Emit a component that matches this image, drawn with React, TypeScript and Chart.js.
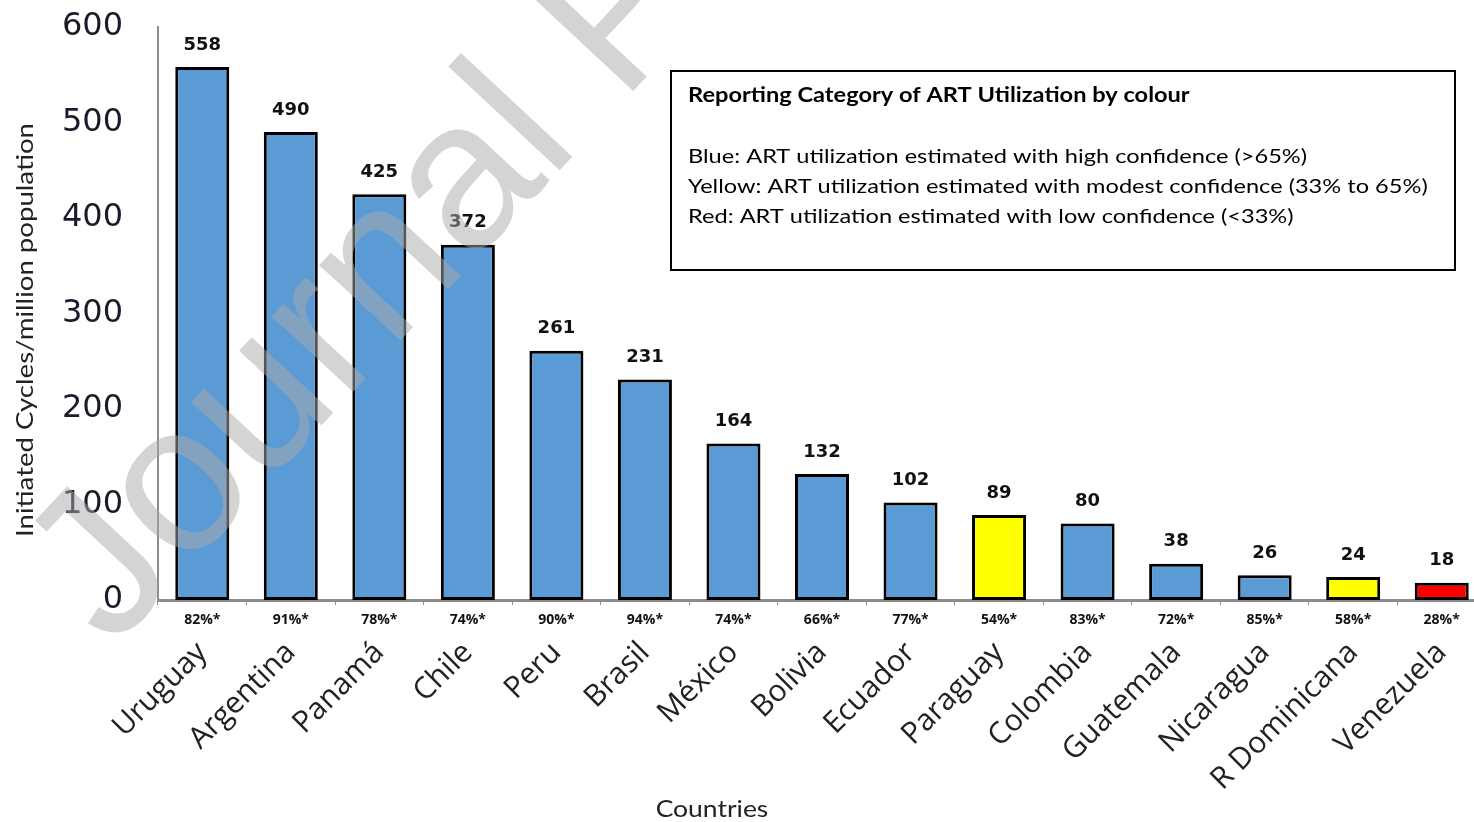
import React, { useEffect, useRef } from 'react';
import { Chart, registerables } from 'chart.js';

Chart.register(...registerables);

const countries = ['Uruguay', 'Argentina', 'Panamá', 'Chile', 'Peru', 'Brasil', 'México', 'Bolivia', 'Ecuador', 'Paraguay', 'Colombia', 'Guatemala', 'Nicaragua', 'R Dominicana', 'Venezuela'];
const cycles = [558, 490, 425, 372, 261, 231, 164, 132, 102, 89, 80, 38, 26, 24, 18];
const utilization = [82, 91, 78, 74, 90, 94, 74, 66, 77, 54, 83, 72, 85, 58, 28];
const yTickValues = [0, 100, 200, 300, 400, 500, 600];
const legendTitle = 'Reporting Category of ART Utilization by colour';
const legendLines = [
  'Blue: ART utilization estimated with high confidence (>65%)',
  'Yellow: ART utilization estimated with modest confidence (33% to 65%)',
  'Red: ART utilization estimated with low confidence (<33%)',
];
const yTitle = 'Initiated Cycles/million population';
const xTitle = 'Countries';
const watermarkText = 'Journal Pre-proof';

const BLUE = '#5B9BD5';
const YELLOW = '#FFFF00';
const RED = '#FF0000';
const colourFor = (u: number) => (u > 65 ? BLUE : u >= 33 ? YELLOW : RED);

function stretchedText(ctx: CanvasRenderingContext2D, text: string, x: number, y: number, sx: number) {
  ctx.save();
  ctx.translate(x, y);
  ctx.scale(sx, 1);
  ctx.fillText(text, 0, 0);
  ctx.restore();
}

const overlayPlugin = {
  id: 'overlay',
  afterDatasetsDraw(chart: any) {
    const ctx = chart.ctx as CanvasRenderingContext2D;
    const meta = chart.getDatasetMeta(0);
    const area = chart.chartArea;
    ctx.save();
    ctx.fillStyle = '#111';
    ctx.textAlign = 'center';
    ctx.textBaseline = 'middle';
    meta.data.forEach((bar: any, i: number) => {
      ctx.font = 'bold 18px "DejaVu Sans"';
      ctx.fillText(String(cycles[i]), bar.x, bar.y - 22);
      ctx.font = 'bold 14px "Open Sans"';
      ctx.fillText(`${utilization[i]}%*`, bar.x, area.bottom + 20);
    });

    // axis titles
    ctx.fillStyle = '#222';
    ctx.font = '23px Lato';
    ctx.textAlign = 'center';
    stretchedText(ctx, xTitle, 712, 810, 1.15);
    ctx.save();
    ctx.translate(26, 330);
    ctx.rotate(-Math.PI / 2);
    ctx.scale(1.2, 1);
    ctx.fillText(yTitle, 0, 0);
    ctx.restore();

    // legend box
    ctx.lineWidth = 2;
    ctx.strokeStyle = '#000';
    ctx.strokeRect(671, 71, 784, 199);
    ctx.textAlign = 'left';
    ctx.fillStyle = '#000';
    ctx.font = 'bold 20px Lato';
    stretchedText(ctx, legendTitle, 688, 96, 1.18);
    ctx.font = '20px Lato';
    legendLines.forEach((t, i) => stretchedText(ctx, t, 688, 157 + 30 * i, 1.18));
    ctx.restore();
  },
  afterDraw(chart: any) {
    const ctx = chart.ctx as CanvasRenderingContext2D;
    ctx.save();
    ctx.translate(112, 650);
    ctx.rotate((-47 * Math.PI) / 180);
    ctx.font = '210px "Liberation Sans"';
    ctx.fillStyle = 'rgba(170,170,170,0.5)';
    ctx.textBaseline = 'alphabetic';
    ctx.textAlign = 'left';
    ctx.fillText(watermarkText, 0, 0);
    ctx.restore();
  },
};

export default function App() {
  const ref = useRef<HTMLCanvasElement | null>(null);
  useEffect(() => {
    document.body.style.margin = '0';
    const canvas = ref.current!;
    const chart = new Chart(canvas, {
      type: 'bar',
      data: {
        labels: countries,
        datasets: [
          {
            data: cycles,
            backgroundColor: utilization.map(colourFor),
            borderColor: '#000',
            borderWidth: 3,
            borderSkipped: false,
            barPercentage: 1,
            categoryPercentage: 0.61,
          },
        ],
      },
      options: {
        animation: false,
        responsive: false,
        layout: { padding: { left: 0, top: 27, right: 0, bottom: 0 } },
        plugins: { legend: { display: false }, tooltip: { enabled: false } },
        scales: {
          x: {
            afterFit: (s: any) => {
              s.height = 222;
              s.paddingRight = 0;
              s.paddingLeft = 0;
            },
            border: { display: true, color: '#8c8c8c', width: 3 },
            grid: { display: true, drawOnChartArea: false, drawTicks: true, tickLength: 5, color: '#8c8c8c', lineWidth: 1 },
            ticks: {
              minRotation: 45,
              maxRotation: 45,
              padding: 30,
              color: '#222',
              font: { family: '"Open Sans"', size: 30 },
              autoSkip: false,
            },
          },
          y: {
            min: 0,
            max: 600,
            afterFit: (s: any) => {
              s.width = 158;
              s.paddingTop = 0;
              s.paddingBottom = 0;
            },
            afterBuildTicks: (s: any) => { s.ticks = yTickValues.map((v) => ({ value: v })); },
            border: { display: true, color: '#8c8c8c', width: 2 },
            grid: { display: false, drawTicks: false },
            ticks: {
              padding: 35,
              color: '#1a1a2a',
              font: { family: '"DejaVu Sans"', size: 32 },
            },
          },
        },
      },
      plugins: [overlayPlugin],
    });
    return () => chart.destroy();
  }, []);
  return (
    <div style={{ position: 'absolute', left: 0, top: 0, width: 1474, height: 822, overflow: 'hidden', background: '#fff' }}>
      <canvas ref={ref} width={1486} height={822} />
    </div>
  );
}
